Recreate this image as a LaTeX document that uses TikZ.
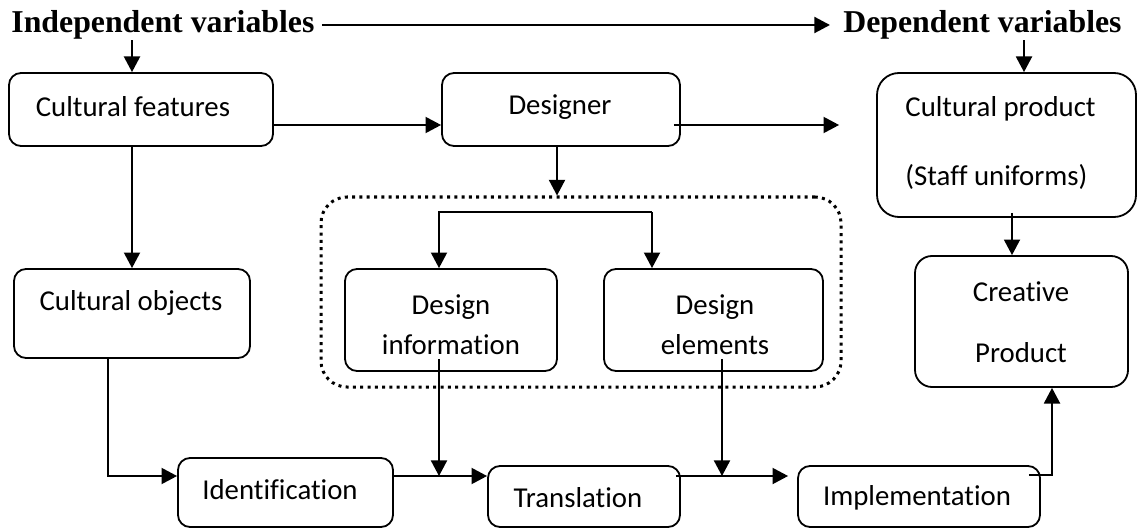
\documentclass[tikz,border=0pt]{standalone}
\usepackage{fontspec}
\setmainfont{Carlito}[RawFeature={-liga}]
\newfontfamily\titlefont{Liberation Serif}
\usetikzlibrary{arrows.meta,calc}
\begin{document}
\begin{tikzpicture}[x=0.5pt,y=-0.5pt,
  box/.style={draw, line width=0.9pt, rounded corners=6pt, inner sep=0pt},
  lbl/.style={font=\fontsize{14.4}{20}\selectfont, inner sep=0pt, align=center},
  ttl/.style={font=\titlefont\bfseries\fontsize{15.9}{18}\selectfont, inner sep=0pt},
  arr/.style={line width=1pt, -{Triangle[length=7.8pt,width=8pt]}},
  dotbox/.style={draw, line width=1.5pt, dash pattern=on 1.5pt off 2.15pt, rounded corners=13pt, inner sep=0pt}]
\useasboundingbox (0,0) rectangle (1138,529);

% titles
\node[ttl, anchor=base west] (iv) at (11,33) {Independent variables};
\node[ttl, anchor=base east] (dv) at (1122,33) {Dependent variables};

% boxes
\node[box, minimum width=132pt, minimum height=36.5pt] (cf) at (141,109.5) {};
\node[box, minimum width=119pt, minimum height=36.5pt] (des) at (561,109.5) {};
\node[box, rounded corners=11pt, minimum width=129.5pt, minimum height=72pt] (cp) at (1006.5,145) {};
\node[box, minimum width=118pt, minimum height=44.5pt] (co) at (132,313.5) {};
\node[dotbox, minimum width=260pt, minimum height=95pt] (dot) at (581,292) {};
\node[box, minimum width=106pt, minimum height=51pt] (di) at (451,320) {};
\node[box, minimum width=109.5pt, minimum height=51pt] (de) at (713.5,320) {};
\node[box, rounded corners=8.5pt, minimum width=106.5pt, minimum height=65.5pt] (crp) at (1021.5,321.5) {};
\node[box, minimum width=107.5pt, minimum height=34.5pt] (id) at (285.5,492.5) {};
\node[box, minimum width=96pt, minimum height=30.5pt] (tr) at (584,496.5) {};
\node[box, minimum width=121pt, minimum height=30.5pt] (im) at (919,496.5) {};

% texts
\node[lbl] (cft) at (133,107) {Cultural features};
\node[lbl] (dest) at (560,107) {Designer};
\node[lbl, anchor=west, align=left, font=\fontsize{14.4}{34}\selectfont] (cpt) at (905,143) {Cultural product\\(Staff uniforms)};
\node[lbl] (cot) at (131,303) {Cultural objects};
\node[lbl] (dit) at (451,325) {Design\\information};
\node[lbl] (det) at (715,325) {Design\\elements};
\node[lbl, font=\fontsize{14.4}{30.5}\selectfont] (crpt) at (1021,322.5) {Creative\\Product};
\node[lbl] (idt) at (280,490) {Identification};
\node[lbl] (trt) at (578,498) {Translation};
\node[lbl] (imt) at (917,498) {Implementation};

% helper coordinates
\coordinate (c1) at (132,0);
\coordinate (c2) at (1024,0);
\coordinate (r1) at (0,125);
\coordinate (c3) at (557,0);
\coordinate (r2) at (0,212);
\coordinate (c4) at (439,0);
\coordinate (c5) at (652,0);
\coordinate (c6) at (108,0);
\coordinate (r3) at (0,476);
\coordinate (c7) at (722,0);
\coordinate (c8) at (1052,0);
\coordinate (c9) at (1012,0);

% connectors
\draw[arr] ($(iv.base east)+(7,-8)$) -- ($(dv.base west)+(-13,-8)$);
\draw[arr] (iv.south -| c1) -- (cf.north -| c1);
\draw[arr] (dv.south -| c2) -- (cp.north -| c2);
\draw[arr] (cf.south -| c1) -- (co.north -| c1);
\draw[arr] (cf.east |- r1) -- (des.west |- r1);
\draw[arr] ($(des.east |- r1)+(-7,0)$) -- ($(cp.west |- r1)+(-37,0)$);
\draw[arr] (des.south -| c3) -- (dot.north -| c3);
\draw[arr] (c5 |- r2) -- (c4 |- r2) -- (di.north -| c4);
\draw[arr] (c5 |- r2) -- (de.north -| c5);
\draw[arr] (co.south -| c6) |- (id.west |- r3);
\draw[arr] (id.east |- r3) -- (tr.west |- r3);
\draw[arr] ($(di.south -| c4)+(0,-13)$) -- (c4 |- r3);
\draw[arr] ($(tr.east |- r3)+(-5,0)$) -- ($(im.west |- r3)+(-9,0)$);
\draw[arr] ($(de.south -| c7)+(0,-13)$) -- (c7 |- r3);
\draw[arr] ($(im.east |- r3)+(-12,-1)$) -| (crp.south -| c8);
\draw[arr] ($(cp.south -| c9)+(0,-5)$) -- (crp.north -| c9);
\end{tikzpicture}
\end{document}
